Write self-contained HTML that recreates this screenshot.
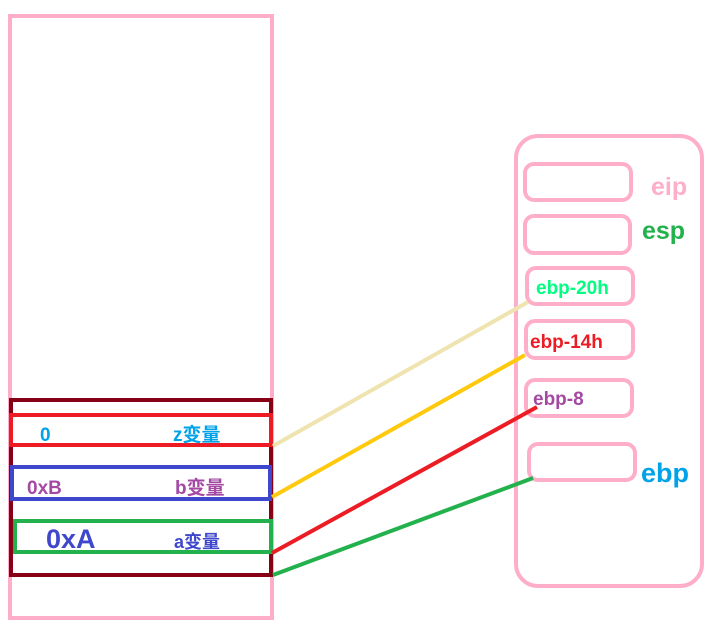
<!DOCTYPE html>
<html><head><meta charset="utf-8"><style>
html,body{margin:0;padding:0;background:#fff;width:720px;height:641px;overflow:hidden}
text{font-family:"Liberation Sans","Noto Sans CJK SC",sans-serif;font-weight:bold}
</style></head><body>
<svg width="720" height="641" viewBox="0 0 720 641" xmlns="http://www.w3.org/2000/svg">
<g fill="none" stroke-width="4">
<rect x="10" y="16" width="262" height="602" stroke="#ffaec9"/>
<rect x="11" y="400" width="260" height="175" stroke="#880015"/>
<rect x="11" y="415" width="260" height="30" stroke="#ed1c24"/>
<rect x="12" y="467" width="258" height="32" stroke="#3f48cc"/>
<rect x="15" y="521" width="256" height="31" stroke="#22b14c"/>
<rect x="516" y="136" width="186" height="450" rx="22" stroke="#ffaec9"/>
<rect x="525" y="164" width="106" height="36" rx="9" stroke="#ffaec9"/>
<rect x="525" y="216" width="105" height="37" rx="9" stroke="#ffaec9"/>
<rect x="527" y="268" width="106" height="36" rx="9" stroke="#ffaec9"/>
<rect x="526" y="321" width="107" height="37" rx="9" stroke="#ffaec9"/>
<rect x="526" y="380" width="106" height="36" rx="9" stroke="#ffaec9"/>
<rect x="529" y="444" width="106" height="36" rx="9" stroke="#ffaec9"/>
<line x1="273" y1="446" x2="528" y2="302" stroke="#efe4b0"/>
<line x1="272" y1="497" x2="525" y2="355" stroke="#ffc90e"/>
<line x1="272" y1="553" x2="537" y2="407" stroke="#ed1c24"/>
<line x1="273" y1="575" x2="533" y2="478" stroke="#22b14c"/>
</g>
<text x="40" y="441" font-size="19" fill="#00a2e8">0</text>
<text x="173" y="441" font-size="19" fill="#00a2e8">z变量</text>
<text x="27" y="494" font-size="19" fill="#a349a4">0xB</text>
<text x="175" y="494" font-size="19" fill="#a349a4">b变量</text>
<text x="46" y="548" font-size="27" fill="#3f48cc">0xA</text>
<text x="174" y="548" font-size="18" fill="#3f48cc">a变量</text>
<text x="651" y="195" font-size="25" fill="#ffaec9">eip</text>
<text x="642" y="239" font-size="25" fill="#22b14c">esp</text>
<text x="536" y="294" font-size="19" fill="#00ff80">ebp-20h</text>
<text x="530" y="348" font-size="19" fill="#ed1c24">ebp-14h</text>
<text x="533" y="405" font-size="19" fill="#a349a4">ebp-8</text>
<text x="641" y="482" font-size="27" fill="#00a2e8">ebp</text>
</svg>
</body></html>
